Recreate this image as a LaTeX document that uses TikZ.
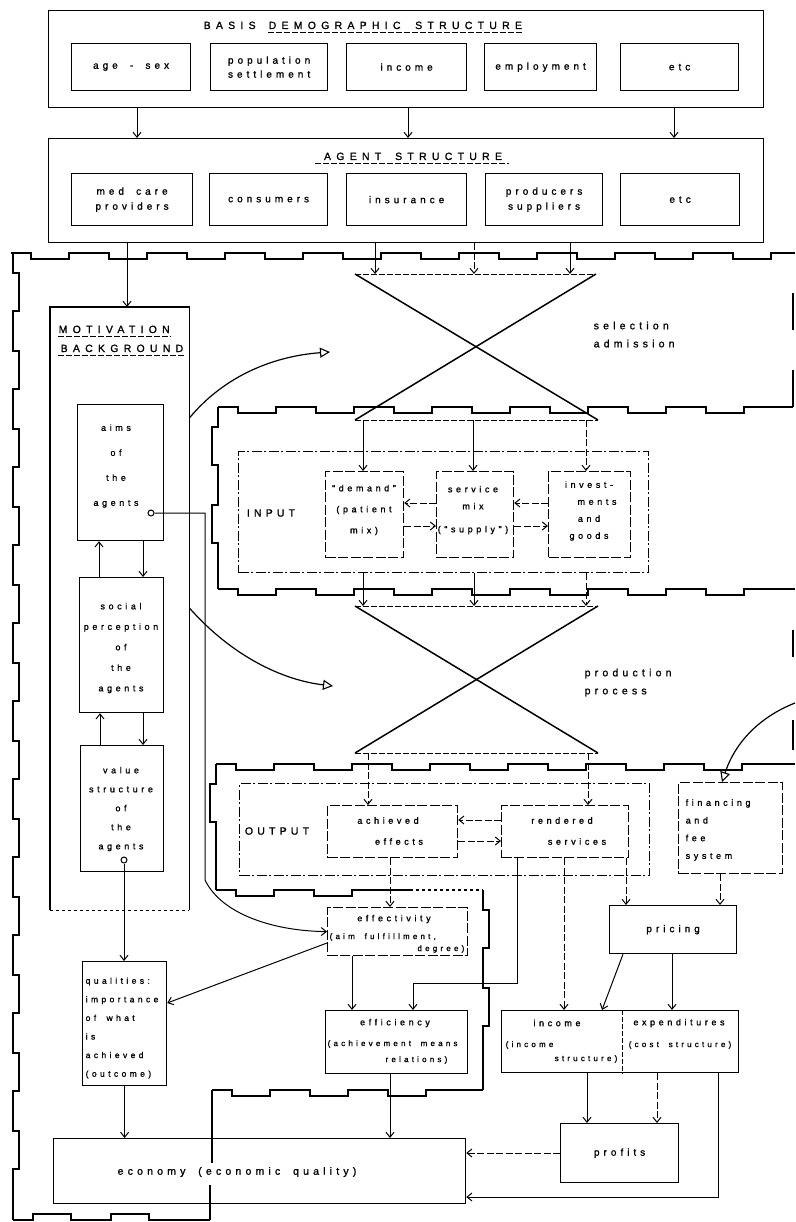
\documentclass[tikz,border=0pt]{standalone}
\usepackage{fontspec}
\setmainfont{Liberation Sans}
\newfontfamily\lblfont{Liberation Sans}[LetterSpace=40, WordSpace=1.8, FakeBold=1.2]
\newfontfamily\ttlfont{Liberation Sans}[LetterSpace=50, WordSpace=1.8, FakeBold=1.2]
\usetikzlibrary{arrows.meta}
\newcommand\fntT{\ttlfont\fontsize{10.5}{12}\selectfont}
\newcommand\fntA{\lblfont\fontsize{10}{12}\selectfont}
\newcommand\fntM{\lblfont\fontsize{9}{11}\selectfont}
\newcommand\fntL{\lblfont\fontsize{10.5}{18}\selectfont}
\newcommand\fntS{\lblfont\fontsize{8}{10}\selectfont}
\newcommand\crenH[5][6]{\draw[cren] (#2,#3) \foreach \k in {1,...,#4}{ -- ++(20,0) -- ++(0,#1) -- ++(38,0) -- ++(0,{-1*(#1)}) -- ++(20,0)} -- (#5,#3);}
\newcommand\crenV[5][6]{\draw[cren] (#2,#3) \foreach \k in {1,...,#4}{ -- ++(0,20) -- ++(#1,0) -- ++(0,38) -- ++({-1*(#1)},0) -- ++(0,20)} -- (#2,#5);}
\begin{document}
\begin{tikzpicture}[x=1pt,y=-1pt,
  bx/.style={draw, line width=1.2pt, inner sep=0pt, anchor=north west, font=\fntA, align=center},
  dbx/.style={bx, dash pattern=on 10pt off 2.5pt},
  ddbx/.style={bx, dash pattern=on 10pt off 2.5pt on 2pt off 2.5pt},
  txt/.style={inner sep=0.5pt, font=\fntM, align=center},
  arr/.style={line width=1pt, -{Straight Barb[length=5pt,width=8pt,line width=1pt]}},
  darr/.style={arr, dash pattern=on 7pt off 2.5pt},
  tarr/.style={line width=1.2pt, -{Triangle[open,length=10pt,width=10pt,line width=1.1pt]}},
  cren/.style={line width=1.3pt},
  xln/.style={line width=1.5pt},
  ul/.style={line width=0.9pt, dash pattern=on 6pt off 2pt},
  pl/.style={line width=1.2pt},
]
\useasboundingbox (0,0) rectangle (795,1222);

% ---------------- basis demographic structure
\node[bx, minimum width=715pt, minimum height=97pt] (demo) at (48,10) {};
\node[txt, font=\fntT, anchor=base west] (demoT1) at (203,29) {BASIS};
\node[txt, font=\fntT, anchor=base west] (demoT2) at (268,29) {DEMOGRAPHIC STRUCTURE};
\draw[ul] ([yshift=-3pt]demoT2.base west) -- ([yshift=-3pt]demoT2.base east);
\node[bx, minimum width=119pt, minimum height=47pt] (age) at (71,43) {age - sex};
\node[bx, minimum width=117pt, minimum height=47pt] (pop) at (210,43) {population\\[2pt]settlement};
\node[bx, minimum width=120pt, minimum height=47pt] (inc1) at (346,43) {income};
\node[bx, minimum width=112pt, minimum height=47pt] (emp) at (484,43) {employment};
\node[bx, minimum width=118pt, minimum height=47pt] (etc1) at (620,43) {etc};

% ---------------- agent structure
\node[bx, minimum width=715pt, minimum height=104pt] (agent) at (48,138) {};
\node[txt, font=\fntT, anchor=base] (agentT) at (413,160) {AGENT\hspace{14pt}STRUCTURE};
\draw[ul] ([yshift=-3pt,xshift=-8pt]agentT.base west) -- ([yshift=-3pt,xshift=6pt]agentT.base east);
\node[bx, minimum width=121pt, minimum height=52pt] (med) at (71,173) {med care\\[3pt]providers};
\node[bx, minimum width=118pt, minimum height=52pt] (cons) at (209,173) {consumers};
\node[bx, minimum width=120pt, minimum height=52pt] (ins) at (346,173) {insurance};
\node[bx, minimum width=117pt, minimum height=52pt] (prod) at (485,173) {producers\\[3pt]suppliers};
\node[bx, minimum width=119pt, minimum height=52pt] (etc2) at (620,173) {etc};

\draw[arr] (137,0 |- demo.south) -- (137,0 |- agent.north);
\draw[arr] (408,0 |- demo.south) -- (408,0 |- agent.north);
\draw[arr] (674,0 |- demo.south) -- (674,0 |- agent.north);

% ---------------- crenellated region boundaries
\crenH{11}{253}{10}{795}
\crenV{13}{253}{12}{1220}
\crenH[-6]{13}{1220}{2}{210}
\draw[cren] (210,1220) -- (210,1185);
\draw[cren] (212,1163) -- (212,1090);
\crenH{212}{1090}{3}{483}
\crenV{483}{890}{2}{1090}
\crenH{216}{890}{2}{410}
\draw[cren, dashed] (410,890) -- (483,890);
\crenV[-6]{216}{764}{1}{890}
\crenH{216}{764}{7}{795}
\crenH{218}{407}{7}{793}
\draw[cren] (793,407) -- (793,370);
\draw[cren] (793,330) -- (793,293);
\draw[cren] (793,630) -- (793,657);
\draw[cren] (793,720) -- (793,750);
\crenV[-6]{218}{407}{2}{589}
\crenH{218}{589}{7}{795}

% ---------------- selection / admission
\coordinate (X1tl) at (355,274);
\coordinate (X1tr) at (596,274);
\coordinate (X1bl) at (355,420);
\coordinate (X1br) at (598,420);
\draw[arr] (375,0 |- agent.south) -- (375,0 |- X1tl);
\draw[darr] (474,0 |- agent.south) -- (474,0 |- X1tl);
\draw[arr] (570,0 |- agent.south) -- (570,0 |- X1tl);
\draw[xln] (X1tl) -- (X1br);
\draw[xln] (X1tr) -- (X1bl);
\draw[ul] (X1tl) -- (X1tr);
\draw[ul] (X1bl) -- (X1br);
\node[txt, font=\fntL, anchor=north west, align=left] (selT) at (593,321) {selection\\admission};

% ---------------- motivation background
\node[anchor=north west, minimum width=139pt, minimum height=603pt, inner sep=0pt] (motiv) at (50,307) {};
\draw[pl] (motiv.south west) -- (motiv.north west) -- (motiv.north east) -- (motiv.south east);
\draw[pl, dashed] (motiv.south west) -- (motiv.south east);
\draw[arr] (127,0 |- agent.south) -- (127,0 |- motiv.north);
\node[txt, font=\fntT, anchor=base west] (motT1) at (58,333) {MOTIVATION};
\draw[ul] ([yshift=-3pt]motT1.base west) -- ([yshift=-3pt]motT1.base east);
\node[txt, font=\fntT, anchor=base west] (motT2) at (60,352) {BACKGROUND};
\draw[ul] ([yshift=-3pt,xshift=-2pt]motT2.base west) -- ([yshift=-3pt]motT2.base east);

\node[bx, minimum width=86pt, minimum height=136pt] (aims) at (77,404) {};
\node[txt, font={\lblfont\fontsize{9}{25}\selectfont}] (aimsT) at (116,466) {aims\\of\\the\\agents};
\node[circle, draw, line width=1pt, inner sep=0pt, minimum size=6pt] (aimsO) at (151,513) {};
\node[bx, minimum width=84pt, minimum height=135pt] (social) at (79,577) {};
\node[txt, font={\lblfont\fontsize{9}{20.5}\selectfont}] (socialT) at (121,648) {social\\perception\\of\\the\\agents};
\node[bx, minimum width=83pt, minimum height=126pt] (value) at (80,745) {};
\node[txt, font={\lblfont\fontsize{9}{19}\selectfont}] (valueT) at (121,809) {value\\structure\\of\\the\\agents};
\node[circle, draw, line width=1pt, inner sep=0pt, minimum size=6pt] (valueO) at (124,860) {};
\draw[arr] (143,0 |- aims.south) -- (143,0 |- social.north);
\draw[arr] (99,0 |- social.north) -- (99,0 |- aims.south);
\draw[arr] (143,0 |- social.south) -- (143,0 |- value.north);
\draw[arr] (100,0 |- value.north) -- (100,0 |- social.south);

\node[bx, minimum width=84pt, minimum height=124pt] (qual) at (82,961) {};
\node[txt, font={\lblfont\fontsize{8.5}{18.6}\selectfont}, align=left, anchor=west] (qualT) at (85,1028) {qualities:\\importance\\of what\\is\\achieved\\(outcome)};
\draw[arr] (valueO.south) -- (valueO.south |- qual.north);

% ---------------- input
\node[ddbx, minimum width=410pt, minimum height=121pt] (input) at (238,451) {};
\node[txt, font=\fntL] (inputT) at (271,513) {INPUT};
\node[dbx, minimum width=78pt, minimum height=86pt] (demand) at (325,471) {};
\node[txt, font={\lblfont\fontsize{9}{21}\selectfont}] (demandT) at (364,510) {“demand”\\(patient\\mix)};
\node[dbx, minimum width=77pt, minimum height=86pt] (service) at (436,471) {};
\node[txt, font={\lblfont\fontsize{9}{17}\selectfont}] (serviceT) at (473,510) {service\\mix\\[6pt](“supply”)};
\node[dbx, minimum width=82pt, minimum height=86pt] (invest) at (548,471) {};
\node[txt, font={\lblfont\fontsize{9}{17}\selectfont}] (investT) at (589,511) {invest-\\\hspace*{16pt}ments\\and\hspace*{26pt}\\goods};
\draw[arr] (363,0 |- X1bl) -- (363,0 |- demand.north);
\draw[arr] (473,0 |- X1bl) -- (473,0 |- service.north);
\draw[darr] (586,0 |- X1br) -- (586,0 |- invest.north);
\draw[darr] (service.west |- 0,503) -- (demand.east |- 0,503);
\draw[darr] (demand.east |- 0,526) -- (service.west |- 0,526);
\draw[darr] (invest.west |- 0,503) -- (service.east |- 0,503);
\draw[darr] (service.east |- 0,526) -- (invest.west |- 0,526);

% ---------------- production process
\coordinate (X2tl) at (355,606);
\coordinate (X2tr) at (598,606);
\coordinate (X2bl) at (355,753);
\coordinate (X2br) at (598,753);
\draw[arr] (363,0 |- input.south) -- (363,0 |- X2tl);
\draw[arr] (474,0 |- input.south) -- (474,0 |- X2tl);
\draw[darr] (586,0 |- input.south) -- (586,0 |- X2tr);
\draw[xln] (X2tl) -- (X2br);
\draw[xln] (X2tr) -- (X2bl);
\draw[ul] (X2tl) -- (X2tr);
\draw[ul] (X2bl) -- (X2br);
\node[txt, font=\fntL, anchor=north west, align=left] (prodT) at (584,668) {production\\process};

% ---------------- output
\node[ddbx, minimum width=410pt, minimum height=92pt] (output) at (239,783) {};
\node[txt, font=\fntL] (outputT) at (277,831) {OUTPUT};
\node[dbx, minimum width=130pt, minimum height=52pt] (achieved) at (327,805) {};
\node[txt, font={\lblfont\fontsize{9}{21}\selectfont}] (achievedT) at (388,831) {achieved\\\hspace*{22pt}effects};
\node[dbx, minimum width=127pt, minimum height=52pt] (rendered) at (501,805) {};
\node[txt, font={\lblfont\fontsize{9}{21}\selectfont}] (renderedT) at (562,831) {rendered\\\hspace*{30pt}services};
\draw[darr] (368,0 |- X2bl) -- (368,0 |- achieved.north);
\draw[darr] (588,0 |- X2br) -- (588,0 |- rendered.north);
\draw[darr] (rendered.west |- 0,820) -- (achieved.east |- 0,820);
\draw[darr] (achieved.east |- 0,841) -- (rendered.west |- 0,841);

% ---------------- financing, pricing
\node[dbx, minimum width=104pt, minimum height=91pt] (fin) at (678,782) {};
\node[txt, font={\lblfont\fontsize{9}{17.7}\selectfont}, align=left, anchor=west] (finT) at (685,830) {financing\\and\\fee\\system};
\coordinate (rightIn) at (795,703);
\draw[tarr] (rightIn) .. controls (762,716) and (736,740) .. (722,0 |- fin.north);
\node[bx, minimum width=127pt, minimum height=48pt] (pricing) at (609,905) {pricing};
\draw[darr] (720,0 |- fin.south) -- (720,0 |- pricing.north);
\draw[darr] (626,0 |- rendered.south) -- (626,0 |- pricing.north);

% ---------------- effectivity, efficiency
\node[dbx, minimum width=140pt, minimum height=48pt] (effect) at (327,907) {};
\node[txt] (effectT1) at (394,919) {effectivity};
\node[txt, font=\fntS, anchor=west] (effectT2) at (329,937) {(aim fulfillment,};
\node[txt, font=\fntS, anchor=east] (effectT3) at (465,949) {degree)};
\draw[darr] (390,0 |- achieved.south) -- (390,0 |- effect.north);
\node[bx, minimum width=142pt, minimum height=63pt] (effic) at (325,1010) {};
\node[txt] (efficT1) at (395,1023) {efficiency};
\node[txt, font=\fntS, anchor=west] (efficT2) at (327,1044) {(achievement means};
\node[txt, font=\fntS, anchor=east] (efficT3) at (448,1060) {relations)};
\draw[arr] (352,0 |- effect.south) -- (352,0 |- effic.north);
\draw[arr] (517,0 |- rendered.south) -- (517,983) -- (413,983) -- (413,0 |- effic.north);

% ---------------- income / expenditures / profits
\node[bx, minimum width=237pt, minimum height=62pt] (incexp) at (501,1010) {};
\draw[line width=1pt, dash pattern=on 5pt off 2pt] (622,0 |- incexp.north) -- (622,0 |- incexp.south);
\node[txt] (incomeT) at (557,1023) {income};
\node[txt, font=\fntS, anchor=west] (incomeT2) at (505,1045) {(income};
\node[txt, font=\fntS, anchor=east] (incomeT3) at (618,1059) {structure)};
\node[txt] (expT) at (679,1023) {expenditures};
\node[txt, font=\fntS] (expT2) at (680,1045) {(cost structure)};
\draw[darr] (564,0 |- rendered.south) -- (564,0 |- incexp.north);
\draw[arr] (623,0 |- pricing.south) -- (602,0 |- incexp.north);
\draw[arr] (672,0 |- pricing.south) -- (672,0 |- incexp.north);
\node[bx, minimum width=118pt, minimum height=59pt] (profits) at (560,1123) {profits};
\draw[arr] (587,0 |- incexp.south) -- (587,0 |- profits.north);
\draw[darr] (657,0 |- incexp.south) -- (657,0 |- profits.north);

% ---------------- economy
\node[bx, minimum width=412pt, minimum height=65pt] (econ) at (53,1138) {};
\node[txt, font=\fntL] (econT) at (237,1172) {economy (economic quality)};
\draw[arr] (qual.south) -- (qual.south |- econ.north);
\draw[arr] (390,0 |- effic.south) -- (390,0 |- econ.north);
\draw[darr] (profits.west |- 0,1153) -- (econ.east |- 0,1153);
\draw[arr] (718,0 |- incexp.south) -- (718,1197) -- (econ.east |- 0,1197);

% ---------------- cross connectors
\draw[arr] (effect.west |- 0,943) -- (qual.east |- 0,1003);
\draw[arr] (aimsO.east) -- (205,513) -- (205,880) .. controls (222,915) and (275,931) .. (effect.west);
\coordinate (selIn) at (330,352);
\coordinate (prodIn) at (333,686);
\draw[tarr] (motiv.east |- 0,418) .. controls (225,375) and (275,356) .. (selIn);
\draw[tarr] (motiv.east |- 0,608) .. controls (232,656) and (282,680) .. (prodIn);
\end{tikzpicture}
\end{document}
